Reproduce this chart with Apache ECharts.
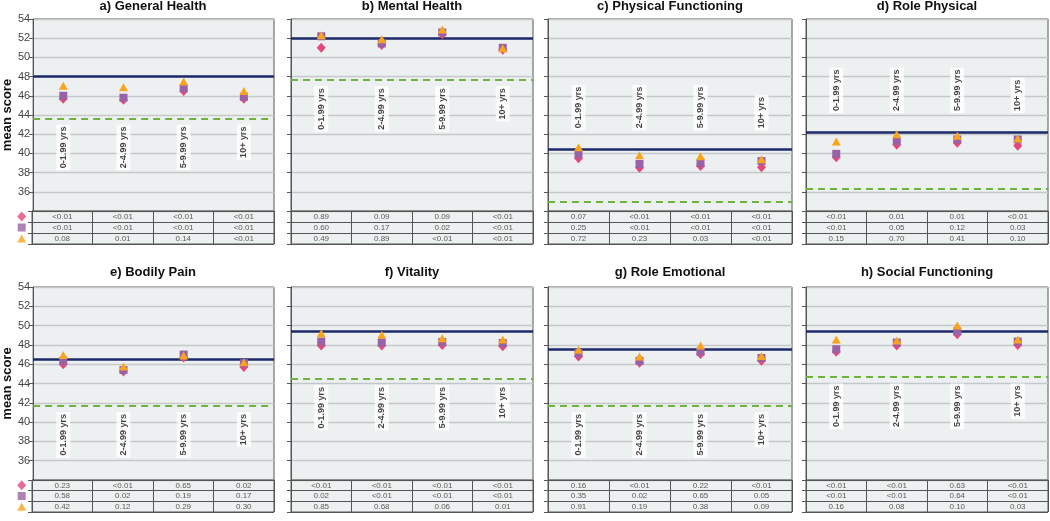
<!DOCTYPE html>
<html>
<head>
<meta charset="utf-8">
<script src="https://cdn.jsdelivr.net/npm/echarts@6/dist/echarts.min.js"></script>
<style>
html,body{margin:0;padding:0;background:#fff;}
#chart{width:1050px;height:521px;}
</style>
</head>
<body>
<div id="chart"></div>
<script>
// ---------- data ----------
const categories = ['0-1.99 yrs', '2-4.99 yrs', '5-9.99 yrs', '10+ yrs'];
const panelTitles = ['a) General Health', 'b) Mental Health', 'c) Physical Functioning', 'd) Role Physical',
                     'e) Bodily Pain', 'f) Vitality', 'g) Role Emotional', 'h) Social Functioning'];
const yMin = 34, yMax = 54, yStep = 2;

// pink diamonds
const diamondScores = [
  [45.7, 45.6, 46.5, 45.7],
  [51.0, 51.3, 52.4, 50.8],
  [39.5, 38.5, 38.7, 38.55],
  [39.6, 40.9, 41.1, 40.8],
  [46.0, 45.25, 46.7, 45.7],
  [47.95, 47.95, 48.0, 47.85],
  [46.8, 46.15, 47.05, 46.35],
  [47.3, 47.95, 49.1, 48.0]
];
// purple squares
const squareScores = [
  [46.0, 45.8, 46.8, 45.9],
  [52.2, 51.45, 52.6, 51.0],
  [39.9, 38.9, 39.0, 39.2],
  [39.95, 41.3, 41.45, 41.45],
  [46.35, 45.4, 47.0, 46.1],
  [48.35, 48.25, 48.3, 48.2],
  [47.15, 46.35, 47.3, 46.65],
  [47.55, 48.25, 49.4, 48.35]
];
// orange triangles
const triangleScores = [
  [47.05, 46.9, 47.5, 46.5],
  [52.3, 51.9, 52.9, 50.95],
  [40.65, 39.8, 39.7, 39.4],
  [41.25, 42.0, 41.85, 41.55],
  [46.95, 45.75, 46.9, 46.2],
  [49.2, 49.05, 48.7, 48.55],
  [47.5, 46.8, 47.95, 46.85],
  [48.55, 48.45, 50.0, 48.55]
];
// reference lines
const solidRef = [48.0, 52.0, 40.45, 42.25, 46.5, 49.4, 47.55, 49.45];
const dashedRef = [43.65, 47.65, 35.0, 36.3, 41.7, 44.5, 41.7, 44.65];

// p-values table rows
const pDiamond = [
  ['<0.01', '<0.01', '<0.01', '<0.01'],
  ['0.89', '0.09', '0.09', '<0.01'],
  ['0.07', '<0.01', '<0.01', '<0.01'],
  ['<0.01', '0.01', '0.01', '<0.01'],
  ['0.23', '<0.01', '0.65', '0.02'],
  ['<0.01', '<0.01', '<0.01', '<0.01'],
  ['0.16', '<0.01', '0.22', '<0.01'],
  ['<0.01', '<0.01', '0.63', '<0.01']
];
const pSquare = [
  ['<0.01', '<0.01', '<0.01', '<0.01'],
  ['0.60', '0.17', '0.02', '<0.01'],
  ['0.25', '<0.01', '<0.01', '<0.01'],
  ['<0.01', '0.05', '0.12', '0.03'],
  ['0.58', '0.02', '0.19', '0.17'],
  ['0.02', '<0.01', '<0.01', '<0.01'],
  ['0.35', '0.02', '0.65', '0.05'],
  ['<0.01', '<0.01', '0.64', '<0.01']
];
const pTriangle = [
  ['0.08', '0.01', '0.14', '<0.01'],
  ['0.49', '0.89', '<0.01', '<0.01'],
  ['0.72', '0.23', '0.03', '<0.01'],
  ['0.15', '0.70', '0.41', '0.10'],
  ['0.42', '0.12', '0.29', '0.30'],
  ['0.85', '0.68', '0.06', '0.01'],
  ['0.91', '0.19', '0.38', '0.09'],
  ['0.16', '0.08', '0.10', '0.03']
];

// ---------- layout & style ----------
const colLeft = [32, 291, 548, 806];
const colWidth = [242, 242, 244, 242];
const rowPlotTop = [19, 287];
const rowPlotH = [192, 193];
const rowTableH = [33, 32];
const rowTitleTop = [0, 266];

const C_DIAMOND = '#e5477b', C_SQUARE = '#9a62a6', C_TRIANGLE = '#f8a41c';
const C_SOLID = '#1d2a6a', C_DASH = '#6cb43c';
const C_FRAME = '#555', C_BG = '#edf0f0', C_GRIDLINE = '#c4c8c8';
const FONT = "'Liberation Sans', Arial, sans-serif";

const grids = [], xAxes = [], yAxes = [], series = [], titles = [];
const markerDefs = [
  { name: 'diamond', symbol: 'diamond', size: [9, 10], color: C_DIAMOND, data: diamondScores, p: pDiamond },
  { name: 'square', symbol: 'rect', size: 8, color: C_SQUARE, data: squareScores, p: pSquare },
  { name: 'triangle', symbol: 'triangle', size: [9, 8], color: C_TRIANGLE, data: triangleScores, p: pTriangle }
];

for (let k = 0; k < 8; k++) {
  const row = Math.floor(k / 4), col = k % 4;
  const left = colLeft[col], width = colWidth[col];
  const pTop = rowPlotTop[row], pH = rowPlotH[row], tH = rowTableH[row];
  const showLabels = col === 0;
  const gPlot = grids.length;
  // plot grid
  grids.push({ left: left, top: pTop, width: width, height: pH, show: true,
    backgroundColor: C_BG, borderColor: C_FRAME, borderWidth: 1, containLabel: false });
  xAxes.push({ type: 'category', gridIndex: gPlot, data: categories, boundaryGap: true,
    axisLine: { show: false }, axisTick: { show: false }, axisLabel: { show: false }, splitLine: { show: false } });
  yAxes.push({ type: 'value', gridIndex: gPlot, min: yMin, max: yMax, interval: yStep,
    name: showLabels ? 'mean score' : '', nameLocation: 'middle', nameGap: 17,
    nameTextStyle: { fontSize: 13, fontWeight: 'bold', color: '#111', fontFamily: FONT },
    axisLine: { show: true, lineStyle: { color: C_FRAME, width: 1 } },
    axisTick: { show: true, length: 4, lineStyle: { color: C_FRAME } },
    axisLabel: { show: showLabels, margin: 3, fontSize: 11, color: '#444', fontFamily: FONT,
      formatter: v => (v === yMin ? '' : String(v)) },
    splitLine: { show: true, lineStyle: { color: C_GRIDLINE, width: 1.3 } } });

  // reference lines
  series.push({ type: 'line', xAxisIndex: gPlot, yAxisIndex: gPlot, data: [], z: 2, silent: true,
    markLine: { silent: true, symbol: 'none', label: { show: false }, animation: false,
      data: [
        { yAxis: solidRef[k], lineStyle: { color: C_SOLID, width: 2.5, type: 'solid' } },
        { yAxis: dashedRef[k], lineStyle: { color: C_DASH, width: 2, type: [7, 5] } }
      ] } });

  // category labels (white boxed, vertical)
  const below = dashedRef[k] >= 40;
  const anchor = below ? dashedRef[k] - 0.65 : solidRef[k] + 1.95;
  series.push({ type: 'scatter', xAxisIndex: gPlot, yAxisIndex: gPlot, z: 3, silent: true,
    symbolSize: 0, itemStyle: { color: 'rgba(0,0,0,0)' },
    data: categories.map((c, i) => [i, anchor]),
    label: { show: true, position: 'inside', rotate: 90, align: below ? 'right' : 'left', verticalAlign: 'middle',
      formatter: p => categories[p.data[0]], fontSize: 9, fontWeight: 'bold', color: '#111',
      fontFamily: FONT, backgroundColor: '#fff', padding: [3, 2, 2, 2] } });

  // markers
  markerDefs.forEach(m => {
    series.push({ type: 'scatter', name: m.name, xAxisIndex: gPlot, yAxisIndex: gPlot, z: 5,
      symbol: m.symbol, symbolSize: m.size, itemStyle: { color: m.color, opacity: 1 },
      data: m.data[k].map((v, i) => [i, v]) });
  });

  // table grid
  const gTab = grids.length;
  grids.push({ left: left, top: pTop + pH, width: width, height: tH, show: true,
    backgroundColor: C_BG, borderColor: C_FRAME, borderWidth: 1 });
  xAxes.push({ type: 'value', gridIndex: gTab, min: 0, max: 4, interval: 1,
    axisLine: { show: false }, axisTick: { show: false }, axisLabel: { show: false },
    splitLine: { show: true, lineStyle: { color: C_FRAME, width: 1 } } });
  yAxes.push({ type: 'value', gridIndex: gTab, min: 0, max: 3, interval: 1, inverse: true,
    axisLine: { show: true, lineStyle: { color: C_FRAME } },
    axisTick: { show: true, length: 4, lineStyle: { color: C_FRAME } },
    axisLabel: { show: false },
    splitLine: { show: true, lineStyle: { color: C_FRAME, width: 1 } } });
  markerDefs.forEach((m, r) => {
    series.push({ type: 'scatter', xAxisIndex: gTab, yAxisIndex: gTab, z: 4, silent: true,
      symbolSize: 0, itemStyle: { color: 'rgba(0,0,0,0)' },
      data: m.p[k].map((t, i) => [i + 0.5, r + 0.5, t]),
      label: { show: true, position: 'inside', formatter: p => p.data[2], fontSize: 8,
        color: '#333', fontFamily: FONT } });
    if (showLabels) {
      series.push({ type: 'scatter', xAxisIndex: gTab, yAxisIndex: gTab, z: 4, silent: true, clip: false,
        symbol: m.symbol, symbolSize: m.size, itemStyle: { color: m.color },
        data: [[-0.17, r + 0.5]] });
    }
  });

  titles.push({ text: panelTitles[k], left: left + width / 2, top: rowTitleTop[row], textAlign: 'center',
    padding: 0, textStyle: { fontSize: 13, fontWeight: 'bold', color: '#111', fontFamily: FONT } });
}

const chart = echarts.init(document.getElementById('chart'), null, { renderer: 'canvas' });
chart.setOption({
  animation: false,
  backgroundColor: '#fff',
  title: titles,
  grid: grids,
  xAxis: xAxes,
  yAxis: yAxes,
  series: series
});
</script>
</body>
</html>
